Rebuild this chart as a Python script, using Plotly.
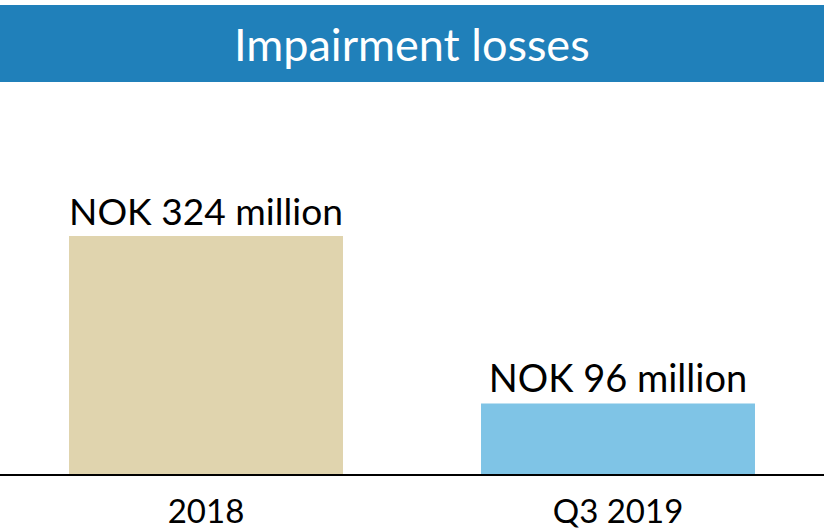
import plotly.graph_objects as go

categories = ["2018", "Q3 2019"]
values = [324, 96]
labels = ["NOK 324 million", "NOK 96 million"]
bar_colors = ["#E0D4AE", "#7FC4E6"]

W, H = 824, 531
top, bottom = 82, 57
plot_h = H - top - bottom
ymax = plot_h * 324 / 238.0

fig = go.Figure(go.Bar(
    x=categories, y=values, text=labels,
    texttemplate="%{text}", textposition="outside",
    textfont=dict(family="Lato", size=38, color="black"),
    marker=dict(color=bar_colors, line=dict(width=0)),
    width=0.665, cliponaxis=False,
))

fig.update_layout(
    width=W, height=H,
    margin=dict(l=0, r=0, t=top, b=bottom, pad=0, autoexpand=False),
    plot_bgcolor="white", paper_bgcolor="white",
    showlegend=False,
    xaxis=dict(showline=True, linecolor="black", linewidth=2,
               showgrid=False, ticks="", range=[-0.5, 1.5],
               automargin=False,
               tickfont=dict(family="Lato", size=33, color="black"),
               ticklabelstandoff=7),
    yaxis=dict(visible=False, range=[0, ymax], showgrid=False,
               automargin=False),
    shapes=[dict(type="rect", xref="paper", yref="paper",
                 x0=0, x1=1, y0=1.0, y1=(H - bottom - 5) / plot_h,
                 fillcolor="#2080BA", line=dict(width=0), layer="below")],
    annotations=[dict(text="Impairment losses", xref="paper", yref="paper",
                      x=0.5, y=(H - bottom - 44) / plot_h, xanchor="center",
                      yanchor="middle", showarrow=False,
                      font=dict(family="Lato", size=45, color="white"))],
)

post = (
    "document.documentElement.style.margin='0';"
    "document.documentElement.style.padding='0';"
    "document.documentElement.style.overflow='hidden';"
    "document.body.style.margin='0';"
    "document.body.style.padding='0';"
    "document.body.style.overflow='hidden';"
    "var d=document.getElementById('{plot_id}');"
    "d.parentElement.style.position='absolute';"
    "d.parentElement.style.top='0';d.parentElement.style.left='0';"
    "window.scrollTo(0,0);"
)

fig.write_html("out.html", config={"displayModeBar": False}, post_script=post)
